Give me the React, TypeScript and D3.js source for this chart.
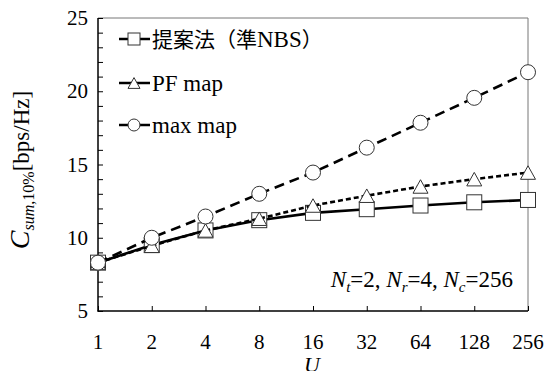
import React, { useEffect, useRef } from "react";
import * as d3 from "d3";

const users = ["1", "2", "4", "8", "16", "32", "64", "128", "256"];
const proposed = [8.3, 9.5, 10.5, 11.2, 11.7, 11.95, 12.2, 12.42, 12.58];
const pfMap = [8.3, 9.45, 10.5, 11.3, 12.2, 12.87, 13.5, 14.0, 14.45];
const maxMap = [8.3, 10.0, 11.45, 13.0, 14.45, 16.15, 17.85, 19.55, 21.3];
const yTicks = [5, 10, 15, 20, 25];
// legend labels split into [text, isCJK] runs
const legendNames: [string, boolean][][] = [
  [["提案法（準", true], ["NBS", false], ["）", true]],
  [["PF map", false]],
  [["max map", false]],
];

const FONT = "'Liberation Serif', serif";
const CJK = "'Noto Sans CJK JP', sans-serif";

function App() {
  const svgRef = useRef<SVGSVGElement>(null);

  useEffect(() => {
    const svg = d3.select(svgRef.current);
    svg.selectAll("*").remove();

    const left = 98, right = 528, top = 18, bottom = 311;
    const x = d3.scalePoint().domain(users).range([left, right]);
    const y = d3.scaleLinear().domain([5, 25]).range([bottom, top]);

    // frame: top and right thin grey
    svg.append("line").attr("x1", left).attr("x2", right).attr("y1", top).attr("y2", top)
      .attr("stroke", "#777").attr("stroke-width", 1);
    svg.append("line").attr("x1", right).attr("x2", right).attr("y1", top).attr("y2", bottom)
      .attr("stroke", "#777").attr("stroke-width", 1);

    // y axis, ticks inward every 1
    const yAxis = d3.axisRight(y).tickValues(d3.range(5, 26, 1)).tickSize(5).tickFormat(() => "");
    const gy = svg.append("g").attr("transform", `translate(${left},0)`).call(yAxis);
    gy.select(".domain").remove();
    gy.selectAll("line").attr("stroke", "#000").attr("stroke-width", 1);

    svg.selectAll(".ylab")
      .data(yTicks)
      .join("text")
      .attr("x", 88)
      .attr("y", (d) => y(d) + 7)
      .attr("text-anchor", "end")
      .attr("font-family", FONT)
      .attr("font-size", 21)
      .text((d) => d);

    // x axis, ticks inward
    const xAxis = d3.axisTop(x).tickSize(5).tickFormat(() => "");
    const gx = svg.append("g").attr("transform", `translate(0,${bottom})`).call(xAxis);
    gx.select(".domain").remove();
    gx.selectAll("line").attr("stroke", "#000").attr("stroke-width", 1);

    svg.selectAll(".xlab")
      .data(users)
      .join("text")
      .attr("x", (d) => x(d)!)
      .attr("y", 349)
      .attr("text-anchor", "middle")
      .attr("font-family", FONT)
      .attr("font-size", 21)
      .text((d) => d);

    svg.append("line").attr("x1", left).attr("x2", left).attr("y1", top).attr("y2", bottom + 0.5)
      .attr("stroke", "#000").attr("stroke-width", 1.5);
    svg.append("line").attr("x1", left - 0.5).attr("x2", right).attr("y1", bottom).attr("y2", bottom)
      .attr("stroke", "#000").attr("stroke-width", 1.5);

    const series = [
      { values: proposed, dash: null, marker: "square" },
      { values: pfMap, dash: "5,3", marker: "triangle" },
      { values: maxMap, dash: "10,6", marker: "circle" },
    ];

    const line = d3.line<number>()
      .x((_, i) => x(users[i])!)
      .y((d) => y(d));

    const drawMarker = (g: any, kind: string, cx: number, cy: number, s: number) => {
      if (kind === "square") {
        g.append("rect").attr("x", cx - s / 2).attr("y", cy - s / 2).attr("width", s).attr("height", s)
          .attr("fill", "#fff").attr("stroke", "#333").attr("stroke-width", 1);
      } else if (kind === "triangle") {
        const h = s * 0.9;
        g.append("path")
          .attr("d", `M${cx},${cy - h / 2}L${cx + s / 2},${cy + h / 2}L${cx - s / 2},${cy + h / 2}Z`)
          .attr("fill", "#fff").attr("stroke", "#333").attr("stroke-width", 1);
      } else {
        g.append("circle").attr("cx", cx).attr("cy", cy).attr("r", s / 2)
          .attr("fill", "#fff").attr("stroke", "#333").attr("stroke-width", 1);
      }
    };

    series.forEach((s) => {
      const g = svg.append("g");
      g.append("path")
        .attr("d", line(s.values))
        .attr("fill", "none")
        .attr("stroke", "#000")
        .attr("stroke-width", 2.6)
        .attr("stroke-dasharray", s.dash);
      s.values.forEach((v, i) => drawMarker(g, s.marker, x(users[i])!, y(v), 15));
    });

    // legend
    const legendY = [39, 83, 125];
    series.forEach((s, i) => {
      const g = svg.append("g");
      const ly = legendY[i];
      g.append("line").attr("x1", 119).attr("x2", 150).attr("y1", ly).attr("y2", ly)
        .attr("stroke", "#000").attr("stroke-width", 2.5);
      drawMarker(g, s.marker, 134, ly, 12);
      const t = g.append("text")
        .attr("x", 152)
        .attr("y", ly + 8)
        .attr("font-family", FONT)
        .attr("font-size", 23);
      legendNames[i].forEach(([txt, cjk]) => {
        t.append("tspan")
          .attr("font-family", cjk ? CJK : FONT)
          .attr("font-size", cjk ? 21 : 23)
          .text(txt);
      });
    });

    // annotation
    const ann = svg.append("text")
      .attr("x", 513).attr("y", 287)
      .attr("text-anchor", "end")
      .attr("font-family", FONT)
      .attr("font-size", 23);
    const parts: [string, string][] = [["t", "=2, "], ["r", "=4, "], ["c", "=256"]];
    parts.forEach(([sub, rest]) => {
      ann.append("tspan").attr("font-style", "italic").text("N");
      ann.append("tspan").attr("dy", 5).attr("font-style", "italic").attr("font-size", 15).text(sub);
      ann.append("tspan").attr("dy", -5).text(rest);
    });

    // y label
    const yl = svg.append("text")
      .attr("transform", "translate(29,170) rotate(-90)")
      .attr("text-anchor", "middle")
      .attr("font-family", FONT)
      .attr("font-size", 23);
    yl.append("tspan").attr("font-style", "italic").attr("font-size", 28).text("C");
    yl.append("tspan").attr("dy", 5).attr("font-style", "italic").attr("font-size", 16).text("sum");
    yl.append("tspan").attr("font-size", 16).text(",10%");
    yl.append("tspan").attr("dy", -5).text("[bps/Hz]");

    // x label (partly clipped at the bottom, as in the source figure)
    svg.append("text")
      .attr("x", 312).attr("y", 372)
      .attr("text-anchor", "middle")
      .attr("font-family", FONT)
      .attr("font-style", "italic")
      .attr("font-size", 22)
      .text("U");
  }, []);

  return (
    <svg
      ref={svgRef}
      width={550}
      height={371}
      style={{ position: "absolute", left: 0, top: 0, background: "#fff" }}
    />
  );
}

export default App;
